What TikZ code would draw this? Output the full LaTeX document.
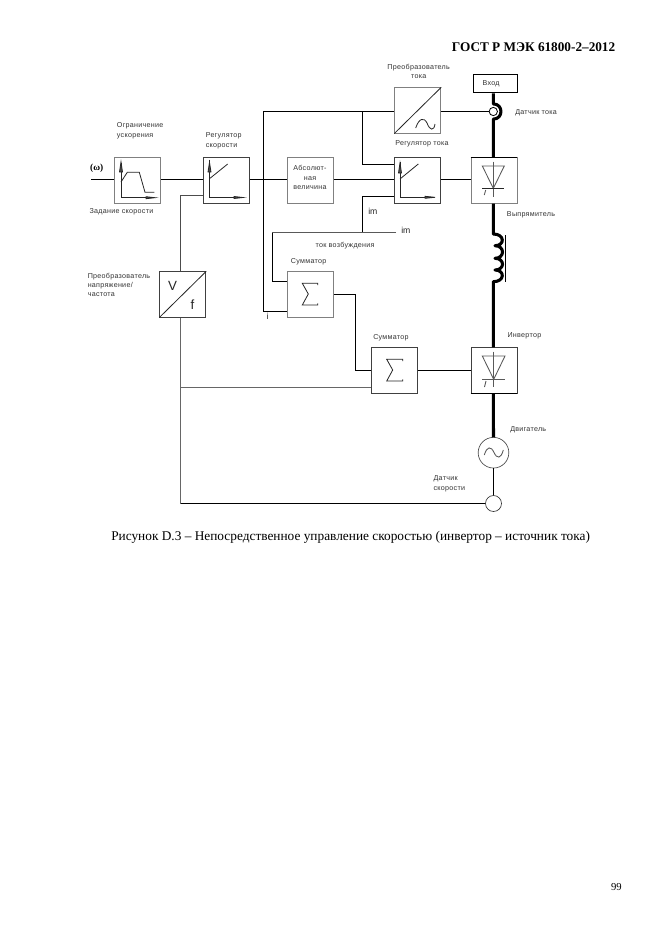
\documentclass[tikz,border=0pt]{standalone}
\usepackage{fontspec}
\setmainfont{Liberation Serif}
\newfontfamily\lab[LetterSpace=4]{Liberation Sans}
\newfontfamily\labplain{Liberation Sans}
\tikzset{
  x=0.75pt,y=-0.75pt,
  blockbox/.style={draw=black!75,line width=0.7pt,fill=white,minimum width=34.5pt,minimum height=34pt,inner sep=0pt,anchor=north west},
  paleblock/.style={blockbox,draw=black!50},
  wire/.style={draw=black,line width=0.85pt},
  greywire/.style={draw=black!60,line width=0.65pt},
  power/.style={draw=black,line width=2.3pt,line join=round},
  lbl/.style={font=\lab\fontsize{5.35}{7}\selectfont,text=black!80,inner sep=0pt,align=left},
  clbl/.style={font=\lab\fontsize{5.35}{7}\selectfont,text=black!80,inner sep=0pt,align=center},
  sym/.style={line width=0.6pt,draw=black!85},
  palesym/.style={line width=0.65pt,draw=black!65},
  imlbl/.style={font=\labplain\fontsize{6.5}{6.5}\selectfont,text=black!85,inner sep=0pt,anchor=west}
}
\begin{document}
\begin{tikzpicture}
\useasboundingbox[fill=white] (0,0) rectangle (661,935);
% blocks
\node[paleblock] (lim) at (114.3,157.3) {};
\node[blockbox] (sreg) at (203.3,157.3) {};
\node[blockbox] (vf) at (159.3,271.3) {};
\node[paleblock] (abs) at (287,157.3) {};
\node[blockbox] (creg) at (394.3,157.3) {};
\node[paleblock] (rect) at (470.5,157.3) {};
\node[paleblock] (conv) at (394.3,87.3) {};
\node[paleblock] (sum1) at (287.3,271.3) {};
\node[blockbox] (sum2) at (371.3,347.3) {};
\node[blockbox] (inv) at (470.5,347.3) {};
\node[draw=black,line width=0.8pt,fill=white,minimum width=32.5pt,minimum height=13.5pt,inner sep=0pt,anchor=north west] (inp) at (473.3,74.3) {};
\node[draw=black!70,line width=0.5pt,circle,minimum size=23pt,inner sep=0pt,fill=white] (motor) at (493.5,452.7) {};
\node[draw=black!80,line width=0.5pt,circle,minimum size=12pt,inner sep=0pt,fill=white] (ssens) at (493.5,503.5) {};
\node[draw=black,line width=0.6pt,circle,minimum size=6.2pt,inner sep=0pt] (csens) at (493.3,111.5) {};
% coordinates
\coordinate (om) at (91,179.5);
\coordinate (b1) at (263.3,179.5);
\coordinate (b1t) at (263.3,111.5);
\coordinate (b1b) at (263.3,311.5);
\coordinate (b2t) at (362.3,111.5);
\coordinate (b2b) at (362.3,164.5);
\coordinate (c1) at (362.3,196.5);
\coordinate (c2) at (362.3,232.5);
\coordinate (c3) at (272.3,232.5);
\coordinate (c4) at (272.3,281.5);
\coordinate (c5) at (396,232.5);
\coordinate (d1) at (355.7,294.5);
\coordinate (d2) at (355.7,370.5);
\coordinate (e1) at (180.5,195.5);
\coordinate (e2) at (180.5,387);
\coordinate (e3) at (180.5,503.5);
% wires
\draw[wire] (om) -- (lim.west |- om);
\draw[wire] (lim.east |- om) -- (sreg.west |- om);
\draw[wire] (sreg.east |- om) -- (abs.west |- om);
\draw[wire] (abs.east |- om) -- (creg.west |- om);
\draw[wire] (creg.east |- om) -- (rect.west |- om);
\draw[wire] (b1t) -- (b1b) -- (sum1.west |- b1b);
\draw[wire] (b1t) -- (conv.west |- b1t);
\draw[wire] (conv.east |- b1t) -- (csens.west);
\draw[wire] (b2t) -- (b2b) -- (creg.west |- b2b);
\draw[wire] (creg.west |- c1) -- (c1) -- (c2);
\draw[wire,draw=black!65] (c5) -- (c3);
\draw[wire] (c3) -- (c4) -- (sum1.west |- c4);
\draw[wire] (sum1.east |- d1) -- (d1) -- (d2) -- (sum2.west |- d2);
\draw[wire] (sum2.east |- d2) -- (inv.west |- d2);
\draw[greywire] (sum2.west |- e2) -- (e2);
\draw[wire,line width=0.7pt,draw=black!70] (sreg.west |- e1) -- (e1) -- (vf.north -| e1);
\draw[greywire] (vf.south -| e1) -- (e2) -- (e3);
\draw[wire] (e3) -- (ssens.west);
\draw[wire,line width=0.65pt] (motor.south) -- (ssens.north);
\draw[wire] (rect.north west) -- (rect.north east);
\draw[wire] (inv.south west) -- (inv.south east);
% power path
\draw[power] (inp.south -| csens) -- (493.3,103.9) .. controls (503.5,103.9) and (503.5,119.1) .. (493.3,119.1) -- (rect.north -| csens);
\draw[power] (rect.south -| csens) -- (493.3,234)
 .. controls (505,234) and (505,245.7) .. (495,245.7)
 .. controls (505,245.7) and (505,258.3) .. (495,258.3)
 .. controls (505,258.3) and (505,270) .. (495,270)
 .. controls (505,270) and (505,281.7) .. (493.3,281.7)
 -- (inv.north -| csens);
\draw[power] (inv.south -| csens) -- (motor.north);
\draw[line width=0.7pt] (505.7,235) -- (505.7,282);
% icons
\draw[sym,line width=0.75pt] (121,163) -- (121,197.7) -- (150,197.7);
\draw[sym] (121,182) -- (127.3,172.3) -- (139.3,172.3) -- (145,192.3) -- (154.3,192.3);
\draw[sym,fill=black!70] (119.5,172) -- (121,162) -- (122.5,172) -- cycle;
\draw[sym,fill=black!70] (146,196.7) -- (155,197.7) -- (146,198.7) -- cycle;
\draw[sym,line width=0.75pt] (209.5,160) -- (209.5,197.5) -- (240,197.5);
\draw[sym] (210,178.3) -- (227.7,164);
\draw[sym,fill=black!70] (208,172) -- (209.5,162.5) -- (211,172) -- cycle;
\draw[sym,fill=black!70] (234,196.5) -- (243,197.5) -- (234,198.5) -- cycle;
\draw[sym,line width=0.75pt] (400,162) -- (400,197.3) -- (431,197.3);
\draw[sym] (400,179) -- (418.3,164);
\draw[sym,fill=black!70] (398.5,173) -- (400,163) -- (401.5,173) -- cycle;
\draw[sym,fill=black!70] (425,196.3) -- (435,197.3) -- (425,198.3) -- cycle;
\draw[sym] (vf.south west) -- (vf.north east);
\draw[sym] (conv.south west) -- (conv.north east);
\draw[sym] (415.7,128) .. controls (419,118) and (424,117) .. (427,123) .. controls (430,131) and (434,131) .. (435,124);
\draw[palesym] (482.3,166) -- (504.3,166) -- (493.3,188.3) -- cycle;
\draw[palesym] (493.3,161.7) -- (493.3,196.7);
\draw[sym,line width=0.8pt] (482.3,188.3) -- (504.3,188.3);
\draw[palesym] (485.7,190) -- (484.3,195);
\draw[palesym] (482.3,356) -- (505,356) -- (493.7,379.3) -- cycle;
\draw[palesym] (493.7,351.7) -- (493.7,386.7);
\draw[palesym] (482.3,379.3) -- (505,379.3);
\draw[palesym] (486,381) -- (484.5,387);
\draw[sym] (317.7,285) -- (317.7,283.3) -- (302.3,283.3) -- (308.3,294) -- (302.3,305) -- (317.7,305) -- (317.7,303.3);
\draw[sym] (402.7,361) -- (402.7,359.3) -- (386.7,359.3) -- (392.7,370) -- (386.7,381) -- (402.7,381) -- (402.7,379.3);
\draw[palesym] (484.3,455) .. controls (487,446) and (491,446) .. (494,452.5) .. controls (497,459) and (501,459) .. (503.3,450);
% texts
\node[font=\labplain\fontsize{10}{10}\selectfont,text=black!85] (vfv) at (172.5,285.5) {V};
\node[font=\labplain\fontsize{10}{10}\selectfont,text=black!85] (vff) at (192.5,305) {f};
\node[font=\fontsize{7}{7}\selectfont\bfseries,inner sep=0pt] (omg) at (96.7,168.3) {(ω)};
\node[clbl,anchor=center] (t1) at (310,177.7) {Абсолют-\\ная\\величина};
\node[lbl,anchor=west] (t2) at (482.3,83.3) {Вход};
\node[lbl,anchor=north west] (t3) at (116.7,122.5) {Ограничение\\ускорения};
\node[lbl,anchor=north west] (t4) at (205.5,132.5) {Регулятор\\скорости};
\node[lbl,anchor=west] (t5) at (89.3,211.7) {Задание скорости};
\node[lbl,anchor=north west] (t6) at (87.5,272.5) {Преобразователь\\напряжение/\\частота};
\node[clbl,anchor=north] (t7) at (418.7,64) {Преобразователь\\тока};
\node[lbl,anchor=west] (t8) at (515,112.7) {Датчик тока};
\node[lbl,anchor=west] (t9) at (395,143.7) {Регулятор тока};
\node[lbl,anchor=west] (t10) at (506.7,215) {Выпрямитель};
\node[lbl,anchor=west] (t11) at (315.3,245.7) {ток возбуждения};
\node[lbl,anchor=west] (t12) at (290.7,261.7) {Сумматор};
\node[lbl,anchor=west] (t13) at (373,337.7) {Сумматор};
\node[lbl,anchor=west] (t14) at (507.3,335.7) {Инвертор};
\node[lbl,anchor=west] (t15) at (510,429.7) {Двигатель};
\node[lbl,anchor=north west] (t16) at (433.3,475.5) {Датчик\\скорости};
\node[imlbl] (t17) at (368,211) {im};
\node[imlbl] (t18) at (401,230) {im};
\node[imlbl] (t19) at (266.3,316.7) {i};
% page text
\node[font=\bfseries\fontsize{9.93}{11}\selectfont,inner sep=0pt,anchor=east] (hdr) at (615.5,47) {ГОСТ Р МЭК 61800-2–2012};
\node[font=\fontsize{10}{11}\selectfont,inner sep=0pt,anchor=west] (cap) at (111,537) {Рисунок D.3 – Непосредственное управление скоростью (инвертор – источник тока)};
\node[font=\fontsize{8}{10}\selectfont,inner sep=0pt,anchor=east] (pg) at (622,887) {99};
\end{tikzpicture}
\end{document}
